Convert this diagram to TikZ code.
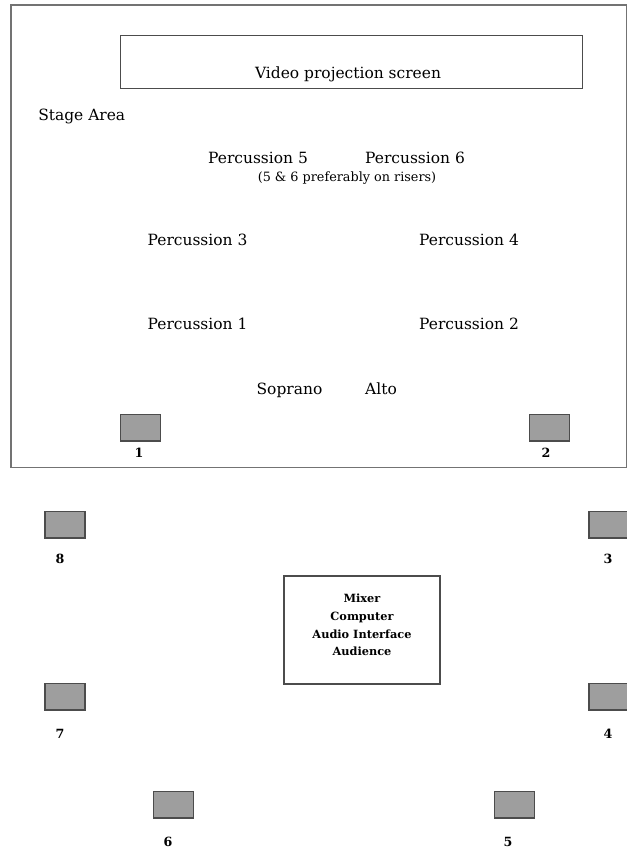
\documentclass[tikz,border=0pt]{standalone}
\usepackage{fontspec}
\setmainfont{DejaVu Serif}
\begin{document}
\begin{tikzpicture}[x=0.75pt,y=-0.75pt,
  frame/.style={draw=black!55,line width=1.2pt},
  spk/.style={draw=black!70,fill=black!38,line width=1pt,minimum width=30pt,minimum height=20pt,inner sep=0pt},
  lbl/.style={font=\fontsize{11.6}{14}\selectfont,anchor=base,inner sep=0pt},
  num/.style={font=\bfseries\fontsize{9.5}{12}\selectfont,anchor=base,inner sep=0pt},
  ]
\useasboundingbox (0,0) rectangle (627,850);
\clip (0,0) rectangle (627,850);
% stage
\node[frame,minimum width=462pt,minimum height=347pt,inner sep=0pt,anchor=north west] (stage) at (10,4) {};
\node[draw=black!70,line width=0.8pt,minimum width=346.5pt,minimum height=40pt,inner sep=0pt,anchor=north west] (screen) at (120,35) {};
\node[lbl] (screentxt) at (348,78) {Video projection screen};
\node[lbl,anchor=base west] (stagearea) at (38,120) {Stage Area};
\node[lbl] (p5) at (258,163) {Percussion 5};
\node[lbl] (p6) at (415,163) {Percussion 6};
\node[font=\fontsize{9.6}{11}\selectfont,anchor=base,inner sep=0pt] (risers) at (347,181) {(5 \& 6 preferably on risers)};
\node[lbl] (p3) at (197.5,245) {Percussion 3};
\node[lbl] (p4) at (469,245) {Percussion 4};
\node[lbl] (p1) at (197.5,329) {Percussion 1};
\node[lbl] (p2) at (469,329) {Percussion 2};
\node[lbl] (sop) at (289.5,394) {Soprano};
\node[lbl] (alto) at (381,394) {Alto};
% speakers
\node[spk] (s1) at (140.5,427.5) {};
\node[num] (n1) at (139,457) {1};
\node[spk] (s2) at (549.5,427.5) {};
\node[num] (n2) at (546,457) {2};
\node[spk] (s8) at (65,524.5) {};
\node[num] (n8) at (60,563) {8};
\node[spk] (s3) at (609,524.5) {};
\node[num] (n3) at (608,563) {3};
\node[spk] (s7) at (65,696.5) {};
\node[num] (n7) at (60,738) {7};
\node[spk] (s4) at (609,696.5) {};
\node[num] (n4) at (608,738) {4};
\node[spk] (s6) at (173.5,804.5) {};
\node[num] (n6) at (168,846) {6};
\node[spk] (s5) at (514.5,804.5) {};
\node[num] (n5) at (508,846) {5};
% mixer
\node[draw=black!70,line width=0.8pt,minimum width=117pt,minimum height=81pt,inner sep=0pt] (mixer) at (362,630) {};
\node[align=center,font=\bfseries\fontsize{8.5}{13.2}\selectfont] (mixtxt) at (362,625) {Mixer\\Computer\\Audio Interface\\Audience};
\end{tikzpicture}
\end{document}
